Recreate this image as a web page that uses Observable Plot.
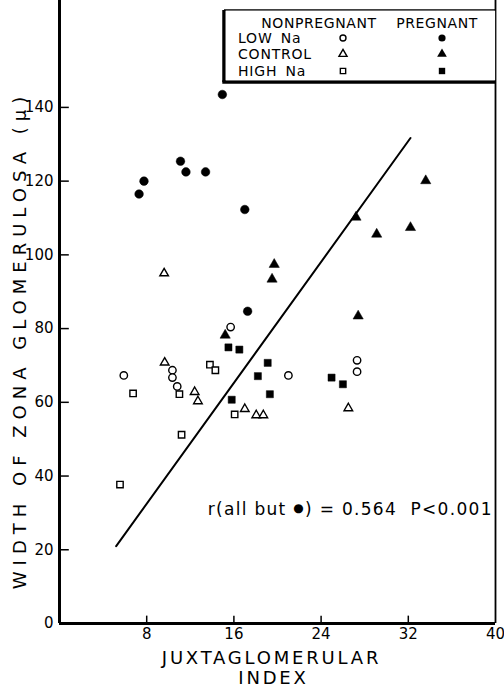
<!DOCTYPE html>
<html><head><meta charset="utf-8">
<script src="https://cdn.jsdelivr.net/npm/d3@7"></script>
<script src="https://cdn.jsdelivr.net/npm/@observablehq/plot@0.6"></script>
<style>
html,body{margin:0;padding:0;background:#fff;}
#chart svg{display:block;}
</style></head><body><div id="chart"></div>
<script>
const FONT = "'DejaVu Sans', sans-serif";

// [juxtaglomerular index, width of zona glomerulosa]
const lowNaNonpregnant = [[5.9,67.3],[10.36,68.7],[10.36,66.7],[10.8,64.3],[15.7,80.4],[21.0,67.3],[27.3,71.4],[27.3,68.3]];
const lowNaPregnant = [[7.3,116.5],[7.75,120],[11.1,125.4],[11.6,122.5],[13.4,122.5],[14.94,143.5],[17.0,112.3],[17.26,84.7]];
const controlNonpregnant = [[9.6,95],[9.65,70.8],[12.4,62.8],[12.7,60.3],[17.0,58.2],[18.05,56.5],[18.7,56.5],[26.5,58.4]];
const controlPregnant = [[15.2,78.2],[19.5,93.4],[19.7,97.4],[27.2,110.2],[29.1,105.6],[32.2,107.4],[33.6,120.1],[27.4,83.4]];
const highNaNonpregnant = [[5.55,37.7],[6.75,62.4],[11.0,62.2],[11.2,51.2],[13.8,70.2],[14.3,68.7],[16.07,56.7]];
const highNaPregnant = [[15.5,74.9],[16.5,74.3],[15.8,60.7],[18.2,67.1],[19.1,70.7],[19.3,62.2],[24.96,66.7],[26.0,64.9]];

const fitLine = [[5.2,21],[32.2,131.7]];
const xTicks = [8,16,24,32];
const xTickLabels = [8,16,24,32,40];
const yTicks = [20,40,60,80,100,120,140];
const yTickLabels = [0,20,40,60,80,100,120,140];

const annotation = {x: 13.6, y: 31, before: "r(all but ", symbol: "\u25CF", after: ") = 0.564  P<0.001"};
const xTitle1 = "JUXTAGLOMERULAR";
const xTitle2 = "INDEX";
const yTitle = "WIDTH OF ZONA GLOMERULOSA (\u03BC)";

const legendHeader = ["NONPREGNANT", "PREGNANT"];
const legendRows = [
  {label: "LOW Na", symbol: "circle"},
  {label: "CONTROL", symbol: "triangle"},
  {label: "HIGH Na", symbol: "square"}
];

const px = d => d[0], py = d => d[1];
function openDots(data, symbol, r) {
  return Plot.dot(data, {x: px, y: py, symbol, r, fill: "white", stroke: "black", strokeWidth: 1.4});
}
function filledDots(data, symbol, r) {
  return Plot.dot(data, {x: px, y: py, symbol, r, fill: "black", stroke: "black", strokeWidth: 0.5});
}

const plot = Plot.plot({
  width: 504,
  height: 687,
  marginLeft: 59,
  marginRight: 9,
  marginTop: 0,
  marginBottom: 64,
  x: {domain: [0, 40], axis: null},
  y: {domain: [0, 169], axis: null},
  style: {fontFamily: FONT, background: "white", color: "black"},
  marks: [
    Plot.ruleX([40], {stroke: "black", strokeWidth: 1.8}),
    Plot.ruleY(yTicks, {x1: 0, x2: 0.9, stroke: "black", strokeWidth: 1.5}),
    Plot.ruleX(xTicks, {y1: 0, y2: 2, stroke: "black", strokeWidth: 1.5}),
    Plot.ruleX([0], {stroke: "black", strokeWidth: 3}),
    Plot.ruleY([0], {x1: 0, x2: 40, stroke: "black", strokeWidth: 3}),
    Plot.text(yTickLabels, {x: 0, y: d => d, text: d => String(d), textAnchor: "end", dx: -6, fontSize: 15}),
    Plot.text(xTickLabels, {x: d => d, y: 0, text: d => String(d), dy: 11, fontSize: 15}),
    Plot.line(fitLine, {x: px, y: py, stroke: "black", strokeWidth: 2}),
    openDots(lowNaNonpregnant, "circle", 3.7),
    filledDots(lowNaPregnant, "circle", 4.3),
    openDots(controlNonpregnant, "triangle", 3.2),
    filledDots(controlPregnant, "triangle", 3.8),
    openDots(highNaNonpregnant, "square", 3.6),
    filledDots(highNaPregnant, "square", 4.0),
    Plot.text([annotation], {x: "x", y: "y", text: d => d.before + d.symbol + d.after, textAnchor: "start", fontSize: 17}),
    Plot.text([xTitle1], {frameAnchor: "bottom", textAnchor: "middle", lineAnchor: "middle", dx: -6, dy: 35, text: d => d, fontSize: 18}),
    Plot.text([xTitle2], {frameAnchor: "bottom", textAnchor: "middle", lineAnchor: "middle", dx: -4, dy: 55, text: d => d, fontSize: 18}),
    Plot.text([yTitle], {frameAnchor: "left", textAnchor: "middle", lineAnchor: "middle", rotate: -90, dx: -39, dy: 28, text: d => d, fontSize: 18})
  ]
});

document.getElementById("chart").appendChild(plot);

const svg = d3.select(plot);
const findText = s => svg.selectAll("text").filter(function() { return this.textContent === s; });
findText(yTitle).attr("letter-spacing", "6px");
findText(xTitle1).attr("letter-spacing", "2.8px");
findText(xTitle2).attr("letter-spacing", "2.8px");
// annotation: smaller bullet inside the text, wider spacing
const ann = findText(annotation.before + annotation.symbol + annotation.after);
ann.attr("letter-spacing", "1.3px").text(null);
ann.append("tspan").text(annotation.before);
ann.append("tspan").attr("font-size", 12).attr("dy", "-0.25em").text(annotation.symbol);
ann.append("tspan").attr("dy", "0.18em").text(annotation.after);

// legend box (inside the plot, upper right)
const lg = svg.append("g").attr("font-family", FONT).attr("fill", "black").attr("text-anchor", "start");
const L = 224, R = 496, T = 10, B = 82;
lg.append("line").attr("x1", L).attr("x2", R).attr("y1", T).attr("y2", T).attr("stroke", "black").attr("stroke-width", 1.5);
lg.append("line").attr("x1", L).attr("x2", L).attr("y1", T).attr("y2", B).attr("stroke", "black").attr("stroke-width", 3.5);
lg.append("line").attr("x1", L - 1.7).attr("x2", R).attr("y1", B).attr("y2", B).attr("stroke", "black").attr("stroke-width", 3.5);
lg.append("rect").attr("x", L + 1.7).attr("y", T + 0.75).attr("width", R - L - 2.6).attr("height", B - T - 2.5).attr("fill", "white");
lg.append("text").attr("x", 319).attr("y", 23).attr("dy", "0.35em").attr("text-anchor", "middle").attr("font-size", 14).attr("letter-spacing", "0.6px").text(legendHeader[0]);
lg.append("text").attr("x", 437).attr("y", 23).attr("dy", "0.35em").attr("text-anchor", "middle").attr("font-size", 14).attr("letter-spacing", "0.6px").text(legendHeader[1]);
const rowY = [38, 54, 71];
const symMap = {circle: d3.symbolCircle, triangle: d3.symbolTriangle, square: d3.symbolSquare};
legendRows.forEach((row, i) => {
  lg.append("text").attr("x", 238).attr("y", rowY[i]).attr("dy", "0.35em").attr("text-anchor", "start").attr("font-size", 14).attr("letter-spacing", "0.8px").attr("word-spacing", "3px").text(row.label);
  const s = d3.symbol(symMap[row.symbol], 3.0 * 3.0 * Math.PI)();
  lg.append("path").attr("d", s).attr("transform", `translate(343,${rowY[i]})`).attr("fill", "white").attr("stroke", "black").attr("stroke-width", 1.4);
  const s2 = d3.symbol(symMap[row.symbol], 3.6 * 3.6 * Math.PI)();
  lg.append("path").attr("d", s2).attr("transform", `translate(442,${rowY[i]})`).attr("fill", "black");
});
</script>
</body></html>
